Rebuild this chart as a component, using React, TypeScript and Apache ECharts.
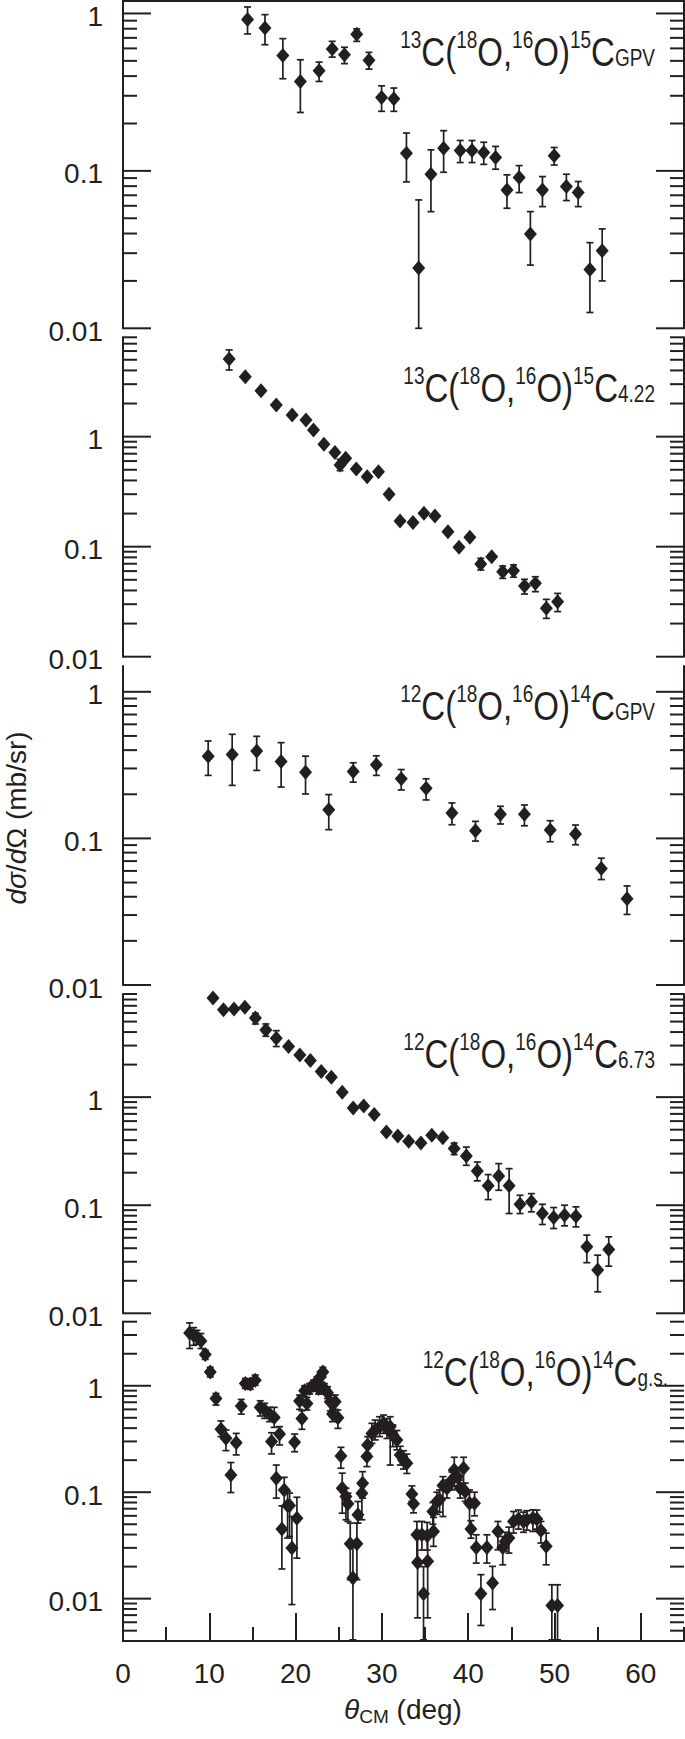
import React, { useEffect, useRef } from 'react';
import * as echarts from 'echarts';

const INK = '#231f20';
const FONT = 'Liberation Sans';

// ---------- data: 13C(18O,16O)15C GPV ----------
const p1Theta = [14.43, 16.45, 18.52, 20.55, 22.72, 24.24, 25.66, 27.08, 28.5, 29.96, 31.38, 32.84, 34.26, 35.68, 37.15, 39.07, 40.44, 41.8, 43.17, 44.49, 45.9, 47.2, 48.6, 49.96, 51.37, 52.74, 54.1, 55.52];
const p1Val = [0.914, 0.809, 0.54, 0.37, 0.433, 0.594, 0.547, 0.737, 0.504, 0.293, 0.287, 0.1295, 0.0242, 0.0952, 0.139, 0.1346, 0.1346, 0.131, 0.1216, 0.0757, 0.0907, 0.0397, 0.0757, 0.1246, 0.0795, 0.0728, 0.02366, 0.0311];
const p1Lo = [0.741, 0.633, 0.385, 0.235, 0.37, 0.528, 0.48, 0.665, 0.443, 0.239, 0.239, 0.0851, 0.01, 0.0551, 0.098, 0.113, 0.113, 0.11, 0.1025, 0.0579, 0.0728, 0.0252, 0.0593, 0.109, 0.0648, 0.0593, 0.0126, 0.02];
const p1Hi = [1.1, 0.983, 0.692, 0.508, 0.491, 0.665, 0.61, 0.797, 0.566, 0.347, 0.336, 0.174, 0.0654, 0.136, 0.18, 0.156, 0.156, 0.152, 0.143, 0.0944, 0.108, 0.0551, 0.092, 0.1408, 0.0952, 0.0856, 0.035, 0.0428];

// ---------- data: 13C(18O,16O)15C 4.22 ----------
const p2Theta = [12.3, 14.17, 15.99, 17.76, 19.6, 21.2, 22.07, 23.28, 24.55, 25.15, 25.8, 27.03, 28.29, 29.6, 30.83, 32.1, 33.6, 34.87, 36.14, 37.65, 38.93, 40.19, 41.45, 42.72, 43.99, 45.25, 46.52, 47.78, 49.05, 50.36];
const p2Val = [5.08, 3.51, 2.62, 1.94, 1.57, 1.42, 1.15, 0.852, 0.716, 0.553, 0.635, 0.508, 0.433, 0.481, 0.299, 0.171, 0.166, 0.201, 0.19, 0.137, 0.0986, 0.1216, 0.0696, 0.0811, 0.0593, 0.0605, 0.0439, 0.0464, 0.0275, 0.0316];
const p2Lo = [4.04, null, null, null, null, null, null, null, null, 0.491, null, null, null, null, null, null, null, null, null, null, null, null, 0.0614, null, 0.0515, 0.0528, 0.0371, 0.039, 0.0223, 0.0257];
const p2Hi = [6.14, null, null, null, null, null, null, null, null, 0.622, null, null, null, null, null, null, null, null, null, null, null, null, 0.0783, null, 0.0667, 0.0683, 0.0505, 0.0533, 0.0332, 0.0376];

// ---------- data: 12C(18O,16O)14C GPV ----------
const p3Theta = [9.87, 12.65, 15.49, 18.32, 21.15, 23.84, 26.67, 29.35, 32.24, 35.12, 38.11, 40.84, 43.73, 46.51, 49.5, 52.43, 55.42, 58.4];
const p3Val = [0.364, 0.374, 0.394, 0.335, 0.283, 0.157, 0.286, 0.318, 0.255, 0.22, 0.149, 0.1128, 0.146, 0.146, 0.114, 0.107, 0.0623, 0.0388];
const p3Lo = [0.269, 0.23, 0.291, 0.224, 0.201, 0.1147, 0.242, 0.269, 0.214, 0.183, 0.124, 0.0959, 0.1254, 0.122, 0.0949, 0.0905, 0.0524, 0.0303];
const p3Hi = [0.462, 0.513, 0.497, 0.45, 0.364, 0.199, 0.328, 0.366, 0.295, 0.255, 0.1746, 0.1307, 0.1656, 0.169, 0.132, 0.1234, 0.0733, 0.0474];

// ---------- data: 12C(18O,16O)14C 6.73 ----------
const p4Theta = [10.43, 11.64, 12.86, 14.12, 15.34, 16.55, 17.76, 19.18, 20.49, 21.71, 22.97, 24.14, 25.4, 26.67, 27.89, 29.11, 30.52, 31.84, 33.1, 34.52, 35.78, 37.05, 38.37, 39.78, 41.05, 42.31, 43.53, 44.74, 46.0, 47.32, 48.59, 49.9, 51.16, 52.48, 53.74, 55.0, 56.28];
const p4Val = [8.26, 6.45, 6.54, 6.77, 5.4, 4.18, 3.51, 2.94, 2.46, 2.18, 1.73, 1.53, 1.11, 0.792, 0.826, 0.692, 0.475, 0.437, 0.39, 0.376, 0.443, 0.421, 0.334, 0.285, 0.2075, 0.151, 0.1865, 0.151, 0.102, 0.1074, 0.0838, 0.0769, 0.0809, 0.0792, 0.0412, 0.0251, 0.039];
const p4Lo = [null, null, null, null, 4.75, 3.66, 2.94, null, null, null, null, null, null, null, null, null, null, null, null, null, null, null, 0.294, 0.234, 0.168, 0.1128, 0.1375, 0.0838, 0.0838, 0.0868, 0.0663, 0.0609, 0.0644, 0.063, 0.0294, 0.0158, 0.0273];
const p4Hi = [null, null, null, null, 5.96, 4.75, 4.12, null, null, null, null, null, null, null, null, null, null, null, null, null, null, null, 0.376, 0.345, 0.251, 0.192, 0.2425, 0.218, 0.1237, 0.128, 0.102, 0.0952, 0.1, 0.0966, 0.0529, 0.0345, 0.051];

// ---------- data: 12C(18O,16O)14C g.s. ----------
const p5Theta = [7.72, 8.18, 8.57, 9.03, 9.53, 10.11, 10.77, 11.35, 11.93, 12.5, 13.12, 13.7, 14.17, 14.74, 15.32, 15.9, 16.41, 16.98, 17.21, 17.52, 17.76, 18.14, 18.41, 18.68, 19.07, 19.3, 19.57, 19.88, 20.15, 20.46, 20.73, 21.04, 21.31, 21.62, 22.08, 22.47, 22.66, 22.85, 23.16, 23.32, 23.7, 24.01, 24.28, 24.59, 24.9, 25.25, 25.4, 25.83, 26.06, 26.33, 26.64, 27.1, 27.22, 27.68, 27.76, 28.26, 28.34, 28.84, 29.22, 29.73, 30.19, 30.58, 30.96, 31.27, 31.73, 32.12, 32.5, 32.89, 33.47, 33.66, 34.05, 34.13, 34.63, 34.82, 35.25, 35.3, 35.9, 35.98, 36.37, 36.68, 37.07, 37.53, 38.11, 38.38, 38.76, 39.07, 39.46, 39.65, 40.15, 40.31, 40.73, 40.93, 41.47, 42.16, 42.82, 43.44, 44.0, 44.28, 44.71, 45.25, 45.83, 46.41, 46.8, 47.49, 47.95, 48.42, 49.03, 49.69, 50.35];
const p5Val = [3.14, 2.99, 2.88, 2.64, 1.97, 1.35, 0.761, 0.39, 0.321, 0.1455, 0.292, 0.645, 1.05, 1.04, 1.13, 0.627, 0.592, 0.542, 0.299, 0.504, 0.135, 0.352, 0.045, 0.105, 0.075, 0.075, 0.0299, 0.294, 0.057, 0.718, 0.494, 0.897, 0.682, 0.944, 1.01, 1.09, 0.944, 1.21, 1.35, 0.944, 0.861, 0.708, 0.542, 0.708, 0.501, 0.219, 0.109, 0.0912, 0.0778, 0.0328, 0.0156, 0.0328, 0.0614, 0.098, 0.1217, 0.216, 0.278, 0.357, 0.384, 0.413, 0.444, 0.398, 0.413, 0.345, 0.31, 0.224, 0.201, 0.187, 0.0964, 0.078, 0.0398, 0.0219, 0.0398, 0.0111, 0.039, 0.0224, 0.066, 0.0428, 0.0818, 0.0848, 0.1154, 0.109, 0.1305, 0.162, 0.14, 0.109, 0.168, 0.1014, 0.0788, 0.045, 0.0788, 0.0303, 0.0111, 0.0303, 0.014, 0.0428, 0.0303, 0.0345, 0.0371, 0.0531, 0.0559, 0.0531, 0.0551, 0.057, 0.0559, 0.0437, 0.031, 0.0086, 0.0086];
const p5Lo = [2.24, 2.4, 2.46, 2.24, 1.77, 1.21, 0.659, 0.333, 0.246, 0.0993, 0.224, 0.542, 0.944, 0.925, 1.01, 0.52, 0.494, 0.46, 0.229, 0.407, 0.0879, 0.278, 0.019, 0.0734, 0.0371, 0.0384, 0.0088, 0.24, 0.024, 0.6, 0.39, 0.789, 0.592, 0.836, 0.897, 0.979, 0.836, 1.09, 1.21, 0.836, 0.76, 0.583, 0.46, 0.6, 0.398, 0.168, 0.0635, 0.0551, 0.0531, 0.0151, 0.0041, 0.0151, 0.0512, 0.0551, 0.0879, 0.174, 0.232, 0.288, 0.31, 0.333, 0.357, 0.32, 0.18, 0.268, 0.25, 0.18, 0.165, 0.15, 0.0817, 0.064, 0.0216, 0.0066, 0.0286, 0.0041, 0.0286, 0.0066, 0.05, 0.031, 0.062, 0.065, 0.0591, 0.088, 0.105, 0.113, 0.115, 0.088, 0.113, 0.082, 0.046, 0.037, 0.06, 0.0216, 0.0056, 0.0216, 0.0079, 0.0288, 0.0208, 0.028, 0.0268, 0.0413, 0.045, 0.042, 0.044, 0.0428, 0.045, 0.0333, 0.0208, 0.0041, 0.0041];
const p5Hi = [3.9, 3.52, 3.32, 3.1, 2.16, 1.49, 0.847, 0.467, 0.384, 0.19, 0.357, 0.744, 1.17, 1.15, 1.26, 0.723, 0.684, 0.627, 0.362, 0.627, 0.18, 0.413, 0.0745, 0.138, 0.1014, 0.098, 0.0591, 0.352, 0.0897, 0.818, 0.583, 1.0, 0.778, 1.05, 1.13, 1.21, 1.05, 1.35, 1.49, 1.05, 0.979, 0.818, 0.627, 0.818, 0.592, 0.264, 0.151, 0.109, 0.098, 0.0512, 0.0321, 0.0512, 0.0818, 0.121, 0.156, 0.268, 0.333, 0.444, 0.476, 0.512, 0.531, 0.49, 0.512, 0.428, 0.38, 0.27, 0.245, 0.228, 0.1146, 0.094, 0.0531, 0.0384, 0.0531, 0.02, 0.052, 0.0384, 0.08, 0.058, 0.1, 0.105, 0.14, 0.13, 0.155, 0.213, 0.165, 0.13, 0.213, 0.122, 0.105, 0.054, 0.1, 0.0398, 0.0168, 0.0398, 0.0201, 0.0531, 0.0384, 0.042, 0.047, 0.0659, 0.068, 0.065, 0.067, 0.0683, 0.068, 0.0531, 0.0413, 0.0135, 0.0135];

// axis ranges and labels
const X_MIN = 0;
const X_MAX = 65;
const Y_MINS = [0.01, 0.01, 0.01, 0.01, 0.004];
const Y_MAXS = [1.2, 8, 1.5, 9, 4];
const Y_TICK_VALUES = [0.01, 0.1, 1];
const Y_TICK_LABELS = ['0.01', '0.1', '1'];
const X_TITLE = [['θ', 'it'], ['CM', 'sub'], [' (deg)', 'm']];
const Y_TITLE = [['d', 'it'], ['σ', 'it'], ['/', 'm'], ['d', 'it'], ['Ω', 'm'], [' (mb/sr)', 'm']];
const PANEL_LABELS = [
  [['13', 'sup'], ['C(', 'm'], ['18', 'sup'], ['O,', 'm'], ['16', 'sup'], ['O)', 'm'], ['15', 'sup'], ['C', 'm'], ['GPV', 'sub']],
  [['13', 'sup'], ['C(', 'm'], ['18', 'sup'], ['O,', 'm'], ['16', 'sup'], ['O)', 'm'], ['15', 'sup'], ['C', 'm'], ['4.22', 'sub']],
  [['12', 'sup'], ['C(', 'm'], ['18', 'sup'], ['O,', 'm'], ['16', 'sup'], ['O)', 'm'], ['14', 'sup'], ['C', 'm'], ['GPV', 'sub']],
  [['12', 'sup'], ['C(', 'm'], ['18', 'sup'], ['O,', 'm'], ['16', 'sup'], ['O)', 'm'], ['14', 'sup'], ['C', 'm'], ['6.73', 'sub']],
  [['12', 'sup'], ['C(', 'm'], ['18', 'sup'], ['O,', 'm'], ['16', 'sup'], ['O)', 'm'], ['14', 'sup'], ['C', 'm'], ['g.s.', 'sub']],
];

// layout (pixels)
const W = 685;
const H = 1739;
const GRID_LEFT = 123;
const GRID_WIDTH = 561;
const PANEL_TOPS = [1, 337.3, 666, 994, 1321.7];
const PANEL_HEIGHTS = [327.3, 319.4, 319, 319.3, 319.3];
const LABEL_RIGHT = [655, 655, 655, 655, 668];
const LABEL_BASE = [65.5, 401.5, 719.5, 1068, 1385.5];

const PANELS = [
  { theta: p1Theta, val: p1Val, lo: p1Lo, hi: p1Hi },
  { theta: p2Theta, val: p2Val, lo: p2Lo, hi: p2Hi },
  { theta: p3Theta, val: p3Val, lo: p3Lo, hi: p3Hi },
  { theta: p4Theta, val: p4Val, lo: p4Lo, hi: p4Hi },
  { theta: p5Theta, val: p5Val, lo: p5Lo, hi: p5Hi },
];

let measureCtx: CanvasRenderingContext2D | null = null;
function measure(text: string, size: number, italic: boolean): number {
  if (!measureCtx) measureCtx = document.createElement('canvas').getContext('2d');
  if (!measureCtx) return text.length * size * 0.55;
  measureCtx.font = `${italic ? 'italic ' : ''}${size}px "${FONT}"`;
  return measureCtx.measureText(text).width;
}

// lay out text fragments along a baseline at local y=0; align: 'right' | 'center'
function fragments(parts: string[][], sizes: Record<string, [number, number, boolean]>, align: string) {
  let x = 0;
  const items: any[] = [];
  for (const [t, kind] of parts) {
    const [fs, dy, italic] = sizes[kind];
    const w = measure(t, fs, italic);
    items.push({ t, fs, dy, italic, x });
    x += w;
  }
  const shift = align === 'right' ? -x : -x / 2;
  return items.map((it) => ({
    type: 'text',
    x: it.x + shift,
    y: it.dy - 0.3465 * it.fs,
    silent: true,
    style: {
      text: it.t,
      fontSize: it.fs,
      fontFamily: FONT,
      fontStyle: it.italic ? 'italic' : 'normal',
      fill: INK,
      align: 'left',
      verticalAlign: 'middle',
      textAlign: 'left',
      textVerticalAlign: 'middle',
    },
  }));
}

function tickValues(min: number, max: number) {
  const out: number[][] = [];
  for (let d = -3; d <= 1; d++) {
    for (let k = 1; k <= 9; k++) {
      const v = k * Math.pow(10, d);
      if (v >= min * 0.9999 && v <= max * 1.0001) out.push([X_MIN, v, k === 1 ? 1 : 0]);
    }
  }
  return out;
}

export default function App() {
  const ref = useRef<HTMLDivElement>(null);
  useEffect(() => {
    if (!ref.current) return;
    const chart = echarts.init(ref.current, undefined, { renderer: 'svg' });

    const grid = PANEL_TOPS.map((top, i) => ({
      left: GRID_LEFT, width: GRID_WIDTH, top, height: PANEL_HEIGHTS[i],
      containLabel: false, outerBoundsMode: 'none',
    }));

    const lineStyle = { color: INK, width: 2 };
    const xAxis: any[] = [];
    for (let i = 0; i < 5; i++) {
      if (i === 0) {
        xAxis.push({ gridIndex: 0, type: 'value', min: X_MIN, max: X_MAX, position: 'top',
          axisLine: { show: true, lineStyle }, axisTick: { show: false }, axisLabel: { show: false }, splitLine: { show: false } });
      } else if (i < 4) {
        xAxis.push({ gridIndex: i, type: 'value', min: X_MIN, max: X_MAX, show: false });
      } else {
        xAxis.push({ gridIndex: 4, type: 'value', min: X_MIN, max: X_MAX, interval: 10, position: 'bottom',
          axisLine: { show: true, lineStyle }, axisTick: { show: true, inside: true, length: 28, lineStyle },
          axisLabel: { fontSize: 28, fontFamily: FONT, color: INK, margin: 18, showMaxLabel: false },
          splitLine: { show: false } });
      }
    }
    // minor x ticks
    xAxis.push({ gridIndex: 4, type: 'value', min: X_MIN, max: X_MAX, interval: 5, position: 'bottom',
      axisLine: { show: false }, axisTick: { show: true, inside: true, length: 14, lineStyle },
      axisLabel: { show: false }, splitLine: { show: false } });

    const yAxis: any[] = [];
    for (let i = 0; i < 5; i++) {
      yAxis.push({ gridIndex: i, type: 'log', logBase: 10, min: Y_MINS[i], max: Y_MAXS[i], position: 'left',
        axisLine: { show: true, lineStyle }, axisTick: { show: false }, minorTick: { show: false },
        splitLine: { show: false }, axisLabel: { show: false } });
      yAxis.push({ gridIndex: i, type: 'log', logBase: 10, min: Y_MINS[i], max: Y_MAXS[i], position: 'right',
        axisLine: { show: true, lineStyle }, axisTick: { show: false }, axisLabel: { show: false },
        splitLine: { show: false } });
    }

    const series: any[] = [];
    PANELS.forEach((p, i) => {
      // y ticks (log minor and major), both sides
      series.push({
        type: 'custom', xAxisIndex: i, yAxisIndex: 2 * i, silent: true, clip: false, z: 3,
        encode: { x: 0, y: 1 },
        data: tickValues(Y_MINS[i], Y_MAXS[i]),
        renderItem: (params: any, api: any) => {
          const v = api.value(1);
          const len = api.value(2) === 1 ? 28 : 14;
          const a = api.coord([X_MIN, v]);
          const b = api.coord([X_MAX, v]);
          const st = { stroke: INK, lineWidth: 2 };
          return { type: 'group', children: [
            { type: 'line', shape: { x1: a[0], y1: a[1], x2: a[0] + len, y2: a[1] }, style: st },
            { type: 'line', shape: { x1: b[0] - len, y1: b[1], x2: b[0], y2: b[1] }, style: st },
          ] };
        },
      });
      // y tick labels (decades)
      series.push({
        type: 'custom', xAxisIndex: i, yAxisIndex: 2 * i, silent: true, clip: false, z: 3,
        encode: { x: 0, y: 1 },
        data: Y_TICK_VALUES.map((v, k) => [X_MIN, v, k]),
        renderItem: (params: any, api: any) => {
          const a = api.coord([X_MIN, api.value(1)]);
          return {
            type: 'text', x: a[0] - 20, y: a[1] + 3,
            style: {
              text: Y_TICK_LABELS[api.value(2)], fontSize: 28, fontFamily: FONT, fill: INK,
              align: 'right', verticalAlign: 'middle', textAlign: 'right', textVerticalAlign: 'middle',
            },
          };
        },
      });
      // error bars
      const errData: number[][] = [];
      p.theta.forEach((t, k) => {
        const lo = p.lo[k];
        const hi = p.hi[k];
        if (lo != null && hi != null) errData.push([t, p.val[k], lo, hi]);
      });
      series.push({
        type: 'custom', xAxisIndex: i, yAxisIndex: 2 * i, silent: true, clip: false, z: 4,
        encode: { x: 0, y: 1 },
        data: errData,
        renderItem: (params: any, api: any) => {
          const x = api.value(0);
          const a = api.coord([x, api.value(3)]);
          const b = api.coord([x, api.value(2)]);
          const cw = 3.5;
          const st = { stroke: INK, lineWidth: 1.7 };
          return { type: 'group', children: [
            { type: 'line', shape: { x1: a[0], y1: a[1], x2: b[0], y2: b[1] }, style: st },
            { type: 'line', shape: { x1: a[0] - cw, y1: a[1], x2: a[0] + cw, y2: a[1] }, style: st },
            { type: 'line', shape: { x1: b[0] - cw, y1: b[1], x2: b[0] + cw, y2: b[1] }, style: st },
          ] };
        },
      });
      series.push({
        type: 'scatter', xAxisIndex: i, yAxisIndex: 2 * i, symbol: 'diamond', symbolSize: [13, 15],
        itemStyle: { color: INK, opacity: 1 }, z: 5, silent: true,
        data: p.theta.map((t, k) => [t, p.val[k]]),
      });
    });

    const labelSizes: Record<string, [number, number, boolean]> = {
      m: [33, 0, false], sup: [19, -14, false], sub: [19, 0.5, false],
    };
    const graphics: any[] = PANEL_LABELS.map((parts, i) => ({
      type: 'group', x: LABEL_RIGHT[i], y: LABEL_BASE[i], scaleY: 1.25,
      children: fragments(parts, labelSizes, 'right'),
    }));
    graphics.push({
      type: 'group', x: 403, y: 1719,
      children: fragments(X_TITLE, { it: [28, 0, true], sub: [19, 4, false], m: [28, 0, false] }, 'center'),
    });
    graphics.push({
      type: 'group', x: 26, y: 818, rotation: Math.PI / 2,
      children: fragments(Y_TITLE, { it: [28, 0, true], m: [28, 0, false] }, 'center'),
    });

    chart.setOption({
      animation: false,
      backgroundColor: '#ffffff',
      grid, xAxis, yAxis, series,
      graphic: { elements: graphics },
    });
    return () => chart.dispose();
  }, []);

  return <div ref={ref} style={{ position: 'absolute', left: 0, top: 0, width: W, height: H }} />;
}
